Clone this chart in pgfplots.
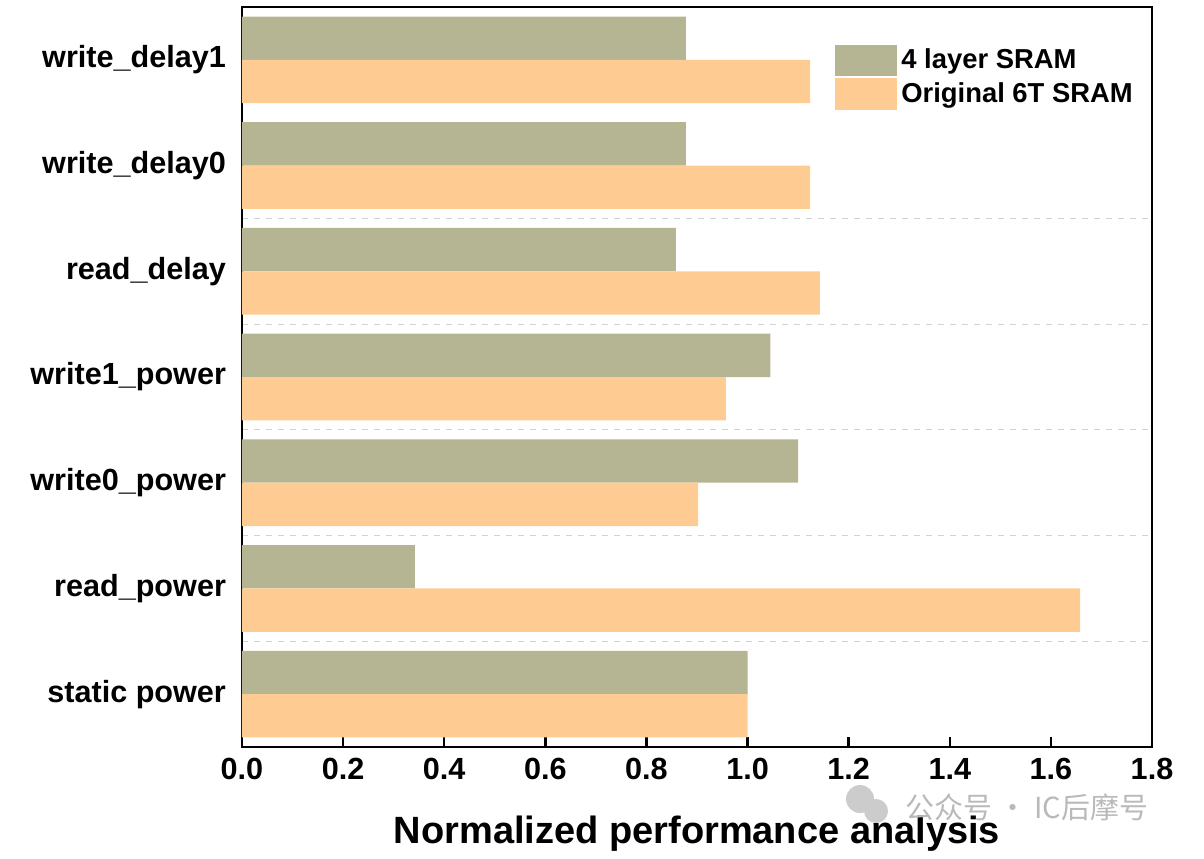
\documentclass[border=0pt]{standalone}
\usepackage{pgfplots}
\pgfplotsset{compat=1.18}
\usepackage{fontspec}
\setmainfont{Liberation Sans}
\newfontfamily\cjk{Noto Sans CJK SC}
\definecolor{olive4}{RGB}{181,181,147}
\definecolor{orange6}{RGB}{254,204,147}
\begin{document}
\begin{tikzpicture}
\begin{axis}[
  at={(0,0)}, anchor=south west,
  width=455pt, height=370pt, scale only axis,
  xmin=0, xmax=1.8, ymin=-0.5, ymax=6.5,
  xbar, bar width=0.41,
  xtick={0,0.2,...,1.8},
  xticklabel style={/pgf/number format/fixed,/pgf/number format/fixed zerofill,/pgf/number format/precision=1},
  /pgf/number format/assume math mode=true,
  xtick pos=bottom, tick align=inside,
  major tick length=5pt,
  xtick style={black, line width=1.2pt},
  ytick={0,...,6},
  yticklabels={static power,read\_power,write0\_power,write1\_power,read\_delay,write\_delay0,write\_delay1},
  ytick style={draw=none},
  minor ytick={0.5,1.5,2.5,3.5,4.5},
  yminorgrids=true,
  minor grid style={gray!35, dashed, line width=0.5pt},
  axis line style={black, line width=1.2pt},
  tick label style={font=\fontsize{15.3}{18}\selectfont\bfseries},
  yticklabel style={xshift=-4.5pt},
  xticklabel style={yshift=-2pt},
  xlabel={Normalized performance analysis},
  xlabel style={font=\fontsize{19}{22}\selectfont\bfseries, yshift=-11pt},
  legend style={draw=none, fill=none, at={(0.645,0.955)}, anchor=north west,
    font=\fontsize{13.7}{16.5}\selectfont\bfseries, row sep=1.2pt,
    /tikz/every even column/.append style={column sep=0pt}},
  legend cell align=left,
  legend image code/.code={\fill[#1] (0pt,-7.8pt) rectangle (31pt,7.8pt);},
]
\addplot[fill=olive4, draw=none, bar shift=0.205] coordinates {
 (1.000,0) (0.342,1) (1.100,2) (1.045,3) (0.858,4) (0.878,5) (0.878,6)};
\addplot[fill=orange6, draw=none, bar shift=-0.205] coordinates {
 (1.000,0) (1.658,1) (0.902,2) (0.957,3) (1.143,4) (1.124,5) (1.124,6)};
\legend{4 layer SRAM, Original 6T SRAM}
\end{axis}
\fill[gray!40] (309pt,-26pt) circle (7pt);
\fill[gray!40] (317pt,-32pt) circle (6pt);
\node[anchor=west, text=gray!55, font=\cjk\fontsize{14.5}{16}\selectfont] at (328pt,-30pt) {公众号 · IC后摩号};
\path (-121pt,-55.5pt) rectangle (481pt,373.5pt);
\end{tikzpicture}
\end{document}
